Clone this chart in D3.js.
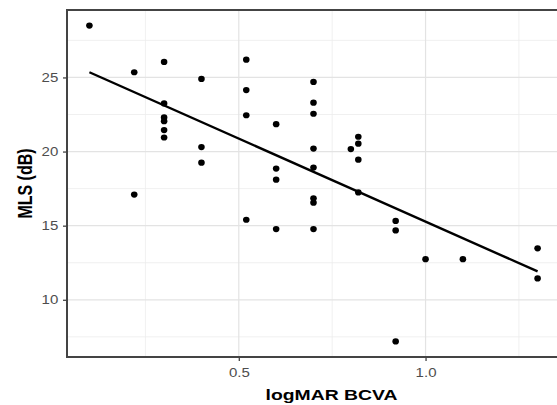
<!DOCTYPE html>
<html>
<head>
<meta charset="utf-8">
<script src="https://cdn.jsdelivr.net/npm/d3@7"></script>
<style>
  html, body { margin: 0; padding: 0; background: #fff; }
  svg { display: block; }
</style>
</head>
<body>
<svg id="chart" width="557" height="405"></svg>
<script>
const logmar = [0.10, 0.22, 0.22, 0.30, 0.30, 0.30, 0.30, 0.30, 0.30, 0.40, 0.40, 0.40,
  0.52, 0.52, 0.52, 0.52, 0.60, 0.60, 0.60, 0.60, 0.70, 0.70, 0.70, 0.70, 0.70, 0.70, 0.70, 0.70,
  0.80, 0.82, 0.82, 0.82, 0.82, 0.92, 0.92, 0.92, 1.00, 1.10, 1.30, 1.30];
const mls = [28.5, 25.35, 17.1, 26.05, 23.25, 22.3, 22.05, 21.45, 20.95, 24.9, 20.3, 19.25,
  26.2, 24.15, 22.45, 15.4, 21.85, 18.85, 18.1, 14.77, 24.7, 23.3, 22.55, 20.2, 18.92, 16.85, 16.55, 14.77,
  20.17, 21.0, 20.53, 19.45, 17.24, 15.32, 14.68, 7.19, 12.74, 12.74, 13.47, 11.44];
const xTicks = [0.5, 1.0];
const xMinor = [0.25, 0.75, 1.25];
const yTicks = [10, 15, 20, 25];
const yMinor = [7.5, 12.5, 17.5, 22.5, 27.5];
const xLabel = "logMAR BCVA";
const yLabel = "MLS (dB)";

const FONT = "'Liberation Sans', Arial, sans-serif";
const SX = 1.25; // horizontal stretch of the text seen in the reference
const svg = d3.select("#chart");
const L = 67, T = 10, B = 357, R = 560;
const x = d3.scaleLinear().domain([0.04, 1.36]).range([L, R]);
const y = d3.scaleLinear().domain([6.14, 29.55]).range([B, T]);

const g = svg.append("g");
g.selectAll(".xminor").data(xMinor).join("line")
  .attr("x1", d => x(d)).attr("x2", d => x(d)).attr("y1", T).attr("y2", B)
  .attr("stroke", "#ececec").attr("stroke-width", 0.8);
g.selectAll(".yminor").data(yMinor).join("line")
  .attr("y1", d => y(d)).attr("y2", d => y(d)).attr("x1", L).attr("x2", R)
  .attr("stroke", "#ececec").attr("stroke-width", 0.8);
g.selectAll(".xmajor").data(xTicks).join("line")
  .attr("x1", d => x(d)).attr("x2", d => x(d)).attr("y1", T).attr("y2", B)
  .attr("stroke", "#e3e3e3").attr("stroke-width", 1.2);
g.selectAll(".ymajor").data(yTicks).join("line")
  .attr("y1", d => y(d)).attr("y2", d => y(d)).attr("x1", L).attr("x2", R)
  .attr("stroke", "#e3e3e3").attr("stroke-width", 1.2);

// least-squares fit line
const n = logmar.length;
const mx = d3.mean(logmar), my = d3.mean(mls);
let sxy = 0, sxx = 0;
for (let i = 0; i < n; i++) { sxy += (logmar[i]-mx)*(mls[i]-my); sxx += (logmar[i]-mx)**2; }
const slope = sxy / sxx, icpt = my - slope * mx;
const xe = d3.extent(logmar);
svg.append("line")
  .attr("x1", x(xe[0])).attr("y1", y(icpt + slope*xe[0]))
  .attr("x2", x(xe[1])).attr("y2", y(icpt + slope*xe[1]))
  .attr("stroke", "#000").attr("stroke-width", 2.4);

svg.selectAll(".pt").data(logmar).join("ellipse")
  .attr("cx", d => x(d)).attr("cy", (d, i) => y(mls[i])).attr("rx", 3.3).attr("ry", 3.1)
  .attr("fill", "#000");

svg.append("rect").attr("x", L).attr("y", T).attr("width", R - L).attr("height", B - T)
  .attr("fill", "none").attr("stroke", "#444").attr("stroke-width", 2);

const xAxis = svg.append("g").attr("transform", `translate(0,${B})`)
  .call(d3.axisBottom(x).tickValues(xTicks).tickFormat(d3.format(".1f")).tickSize(4).tickPadding(7));
const yAxis = svg.append("g").attr("transform", `translate(${L},0)`)
  .call(d3.axisLeft(y).tickValues(yTicks).tickFormat(d3.format("d")).tickSize(4).tickPadding(3));
[xAxis, yAxis].forEach(a => {
  a.select(".domain").remove();
  a.selectAll(".tick line").attr("stroke", "#444").attr("stroke-width", 1.3);
  a.selectAll(".tick text").attr("fill", "#4d4d4d").attr("transform", `scale(${SX},1)`)
    .style("font-family", FONT).style("font-size", "12px");
});

svg.append("text").attr("transform", `translate(331.5,400) scale(${SX},1)`).attr("text-anchor", "middle")
  .style("font-family", FONT).style("font-size", "15.5px")
  .style("font-weight", "bold").attr("fill", "#000").text(xLabel);
svg.append("text").attr("transform", `translate(25,${(T+B)/2}) scale(${SX},1) rotate(-90)`)
  .attr("text-anchor", "middle").attr("dy", "0.36em")
  .style("font-family", FONT).style("font-size", "16px")
  .style("font-weight", "bold").attr("fill", "#000").text(yLabel);
</script>
</body>
</html>
